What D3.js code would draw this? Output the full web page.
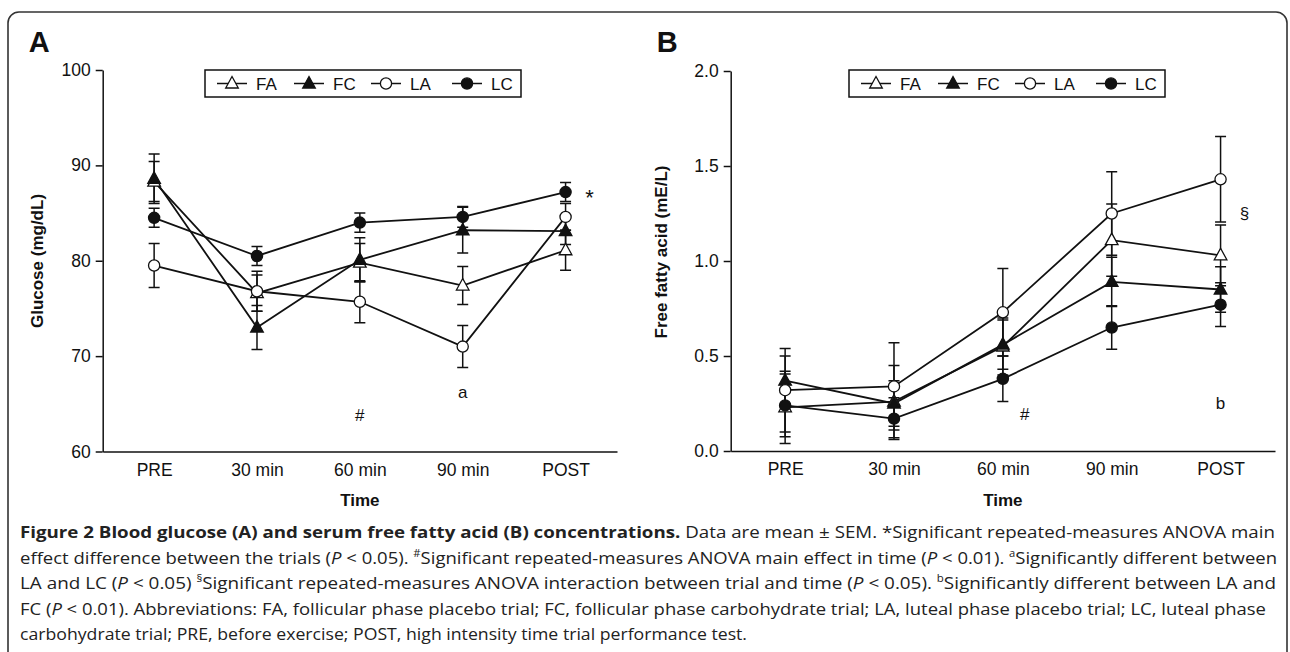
<!DOCTYPE html>
<html>
<head>
<meta charset="utf-8">
<script src="https://cdn.jsdelivr.net/npm/d3@7"></script>
<style>
body { margin: 0; background: #fff; }
svg text { font-family: "Liberation Sans", Arial, sans-serif; fill: #111; }
svg .caption text { font-family: "Open Sans", sans-serif; fill: #222; }
</style>
</head>
<body>
<svg id="fig" width="1290" height="652"></svg>
<script>
const times = ["PRE", "30 min", "60 min", "90 min", "POST"];
const trials = ["FA", "FC", "LA", "LC"];

// panel A, glucose (mg/dL), mean and SEM
const glucoseFA = [88.3, 76.6, 79.8, 77.4, 81.1];
const glucoseFC = [88.6, 73.0, 80.1, 83.2, 83.1];
const glucoseLA = [79.5, 76.8, 75.7, 71.0, 84.6];
const glucoseLC = [84.5, 80.5, 84.0, 84.6, 87.2];
const glucoseFAsem = [2.1, 1.9, 2.0, 2.0, 2.1];
const glucoseFCsem = [2.6, 2.3, 2.3, 2.4, 1.4];
const glucoseLAsem = [2.3, 2.1, 2.2, 2.2, 1.4];
const glucoseLCsem = [1.0, 1.0, 1.0, 1.1, 1.0];
const glucoseTicks = [60, 70, 80, 90, 100];

// panel B, free fatty acid (mE/L), mean and SEM
const ffaFA = [0.23, 0.26, 0.55, 1.11, 1.03];
const ffaFC = [0.37, 0.25, 0.56, 0.89, 0.85];
const ffaLA = [0.32, 0.34, 0.73, 1.25, 1.43];
const ffaLC = [0.24, 0.17, 0.38, 0.65, 0.77];
const ffaFAsem = [0.19, 0.19, 0.15, 0.19, 0.16];
const ffaFCsem = [0.13, 0.12, 0.13, 0.13, 0.12];
const ffaLAsem = [0.22, 0.23, 0.23, 0.22, 0.225];
const ffaLCsem = [0.165, 0.11, 0.12, 0.115, 0.115];
const ffaTicks = [0, 0.5, 1.0, 1.5, 2.0];

// significance marks: label, time, value
const notesA = [["*", "POST", 86.6], ["a", "90 min", 66.2], ["#", "60 min", 63.8]];
const notesB = [["§", "POST", 1.25], ["b", "POST", 0.25], ["#", "60 min", 0.19]];

const captionLines = [
    [["Figure 2 Blood glucose (A) and serum free fatty acid (B) concentrations.", "b"], [" Data are mean ± SEM. *Significant repeated-measures ANOVA main", ""]],
    [["effect difference between the trials (", ""], ["P", "i"], [" < 0.05). ", ""], ["#", "s"], ["Significant repeated-measures ANOVA main effect in time (", ""], ["P", "i"], [" < 0.01). ", ""], ["a", "s"], ["Significantly different between", ""]],
    [["LA and LC (", ""], ["P", "i"], [" < 0.05) ", ""], ["§", "s"], ["Significant repeated-measures ANOVA interaction between trial and time (", ""], ["P", "i"], [" < 0.05). ", ""], ["b", "s"], ["Significantly different between LA and", ""]],
    [["FC (", ""], ["P", "i"], [" < 0.01). Abbreviations: FA, follicular phase placebo trial; FC, follicular phase carbohydrate trial; LA, luteal phase placebo trial; LC, luteal phase", ""]],
    [["carbohydrate trial; PRE, before exercise; POST, high intensity time trial performance test.", ""]]
];

const svg = d3.select("#fig");

svg.append("rect")
    .attr("x", 8).attr("y", 12)
    .attr("width", 1279).attr("height", 700)
    .attr("rx", 11)
    .attr("fill", "none")
    .attr("stroke", "#333")
    .attr("stroke-width", 1.6);

function series(means, sems) {
    return trials.map((t, i) => ({
        trial: t,
        open: t[1] == "A",
        shape: t[0] == "F" ? "tri" : "circle",
        values: means[i].map((m, j) => ({time: times[j], mean: m, sem: sems[i][j]}))
    }));
}

function drawPanel(opt) {
    const g = svg.append("g");

    const x = d3.scalePoint().domain(times).range([opt.left, opt.right]).padding(0.5);
    const y = d3.scaleLinear().domain(opt.domain).range([opt.bottom, opt.top]);

    g.append("text")
        .attr("x", opt.left - 74).attr("y", 52)
        .style("font-size", "29px").style("font-weight", "bold")
        .text(opt.letter);

    g.append("g")
        .attr("transform", "translate(" + opt.left + ",0)")
        .call(d3.axisLeft(y).tickValues(opt.ticks).tickFormat(opt.fmt).tickSize(7).tickSizeOuter(0).tickPadding(5));
    g.append("g")
        .attr("transform", "translate(0," + opt.bottom + ")")
        .call(d3.axisBottom(x).tickSize(0).tickSizeOuter(0).tickPadding(12));
    g.selectAll(".domain, .tick line").attr("stroke", "#111").attr("stroke-width", 1.5);
    g.selectAll(".tick text").style("font-size", "17.5px").attr("fill", "#111")
        .style("font-family", "'Liberation Sans', Arial, sans-serif");

    g.append("text")
        .attr("x", (opt.left + opt.right) / 2).attr("y", 506)
        .attr("text-anchor", "middle")
        .style("font-size", "17px").style("font-weight", "bold")
        .text("Time");

    g.append("text")
        .attr("transform", "translate(" + (opt.left - opt.labelDx) + "," + opt.labelY + ") rotate(-90)")
        .attr("text-anchor", "middle")
        .style("font-size", "17px").style("font-weight", "bold")
        .text(opt.ylabel);

    const line = d3.line().x(d => x(d.time)).y(d => y(d.mean));

    // error bars first, then lines, then markers on top
    opt.data.forEach(s => {
        s.values.forEach(d => {
            const cx = x(d.time);
            const y1 = y(d.mean - d.sem), y2 = y(d.mean + d.sem);
            g.append("path")
                .attr("d", "M" + cx + "," + y1 + "V" + y2 + "M" + (cx - 5.5) + "," + y1 + "H" + (cx + 5.5) + "M" + (cx - 5.5) + "," + y2 + "H" + (cx + 5.5))
                .attr("stroke", "#111").attr("stroke-width", 1.5).attr("fill", "none");
        });
    });

    opt.data.forEach(s => {
        g.append("path")
            .datum(s.values)
            .attr("d", line)
            .attr("fill", "none")
            .attr("stroke", "#111")
            .attr("stroke-width", 1.8);
    });

    opt.data.forEach(s => {
        s.values.forEach(d => {
            marker(g, x(d.time), y(d.mean), s);
        });
    });

    opt.notes.forEach(n => {
        let dx = 0;
        if (n[0] == "*" || n[0] == "§") dx = 24;
        if (n[0] == "#" && opt.letter == "B") dx = 22;
        g.append("text")
            .attr("x", x(n[1]) + dx).attr("y", y(n[2]))
            .attr("text-anchor", "middle")
            .attr("dominant-baseline", "central")
            .style("font-size", n[0] == "*" ? "22px" : "17px")
            .text(n[0]);
    });

    // legend
    const lg = g.append("g").attr("transform", "translate(" + opt.legendX + ",70)");
    lg.append("rect")
        .attr("width", 316).attr("height", 27)
        .attr("fill", "#fff").attr("stroke", "#111").attr("stroke-width", 1.5);
    const itemX = [12, 89, 166, 247];
    opt.data.forEach((s, i) => {
        lg.append("line")
            .attr("x1", itemX[i]).attr("x2", itemX[i] + 30)
            .attr("y1", 13.5).attr("y2", 13.5)
            .attr("stroke", "#111").attr("stroke-width", 1.5);
        marker(lg, itemX[i] + 15, 13.5, s);
        lg.append("text")
            .attr("x", itemX[i] + 39).attr("y", 19.5)
            .style("font-size", "17px")
            .text(s.trial);
    });
}

function marker(g, cx, cy, s) {
    let m;
    if (s.shape == "tri") {
        m = g.append("path").attr("d", "M" + cx + "," + (cy - 7) + "L" + (cx + 6.3) + "," + (cy + 4.5) + "L" + (cx - 6.3) + "," + (cy + 4.5) + "Z");
    } else {
        m = g.append("circle").attr("cx", cx).attr("cy", cy).attr("r", 5.6);
    }
    m.attr("fill", s.open ? "#fff" : "#111").attr("stroke", "#111").attr("stroke-width", 1.3);
}

drawPanel({
    letter: "A", left: 102.7, right: 617, top: 70, bottom: 451.5,
    domain: [60, 100], ticks: glucoseTicks, fmt: d3.format("d"),
    ylabel: "Glucose (mg/dL)", labelY: 261, labelDx: 60, legendX: 205,
    data: series([glucoseFA, glucoseFC, glucoseLA, glucoseLC], [glucoseFAsem, glucoseFCsem, glucoseLAsem, glucoseLCsem]),
    notes: notesA
});

drawPanel({
    letter: "B", left: 730.7, right: 1275, top: 71, bottom: 451,
    domain: [0, 2], ticks: ffaTicks, fmt: d3.format(".1f"),
    ylabel: "Free fatty acid (mE/L)", labelY: 252, labelDx: 64, legendX: 849,
    data: series([ffaFA, ffaFC, ffaLA, ffaLC], [ffaFAsem, ffaFCsem, ffaLAsem, ffaLCsem]),
    notes: notesB
});

// caption, each line stretched to the width it has in the figure
const cap = svg.append("g").attr("class", "caption");
const lineEnds = [1275, 1277, 1276, 1266, 747];
captionLines.forEach((parts, i) => {
    const t = cap.append("text")
        .attr("x", 20).attr("y", 538 + i * 25.5)
        .attr("textLength", lineEnds[i] - 20)
        .attr("lengthAdjust", "spacingAndGlyphs")
        .style("font-size", "16.5px");
    parts.forEach(p => {
        const ts = t.append("tspan").text(p[0]);
        if (p[1] == "b") ts.style("font-weight", "bold");
        if (p[1] == "i") ts.style("font-style", "italic");
        if (p[1] == "s") ts.attr("baseline-shift", "super").style("font-size", "10px");
    });
});
</script>
</body>
</html>
